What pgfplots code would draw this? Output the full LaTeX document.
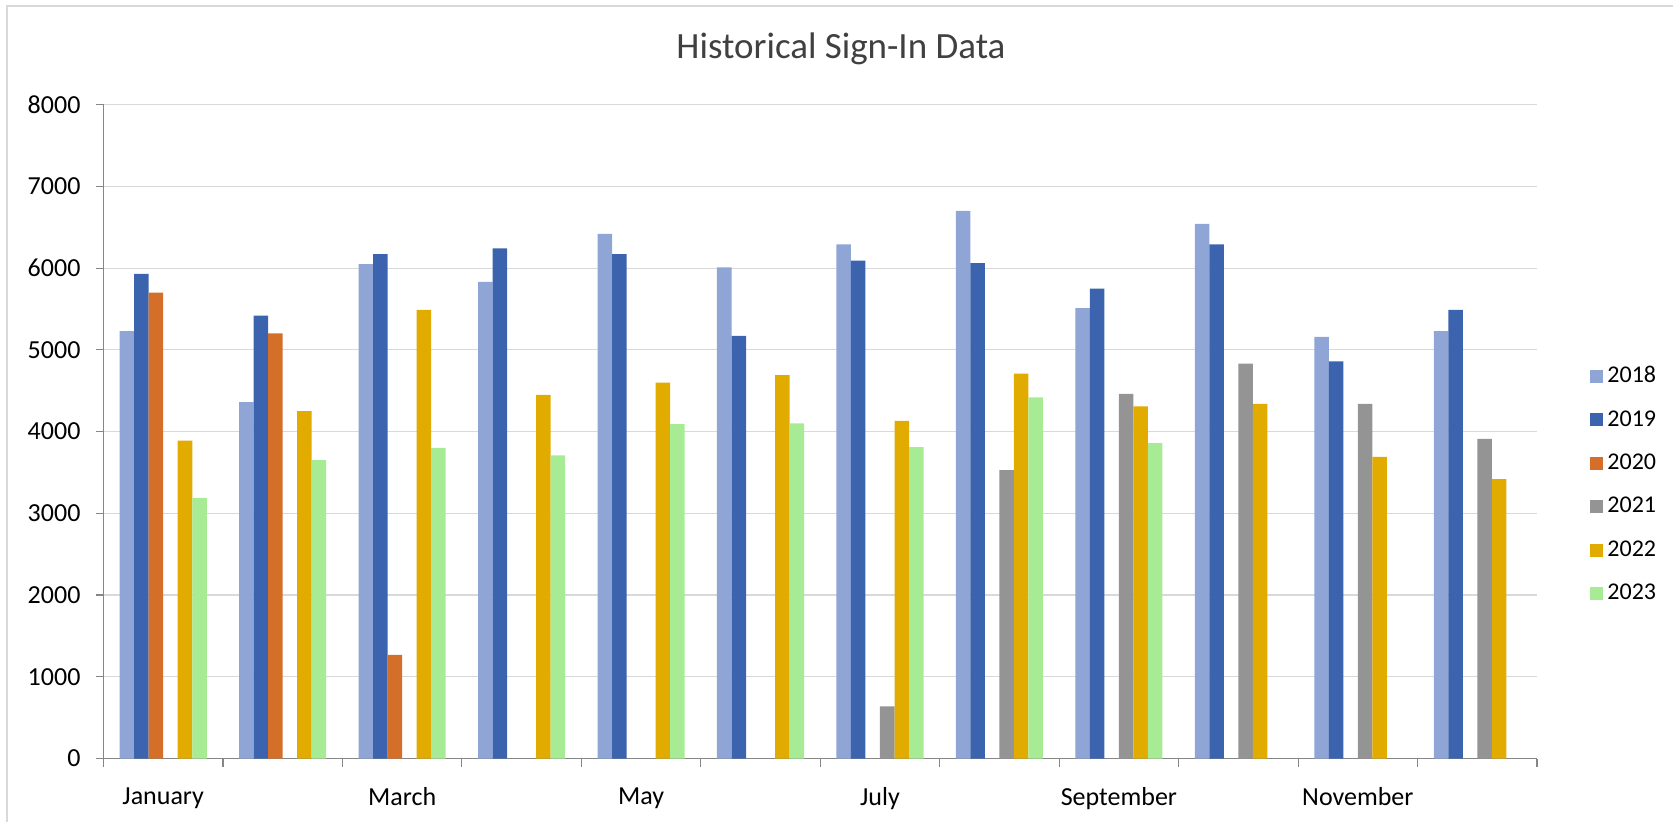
\documentclass[border=0pt]{standalone}
\usepackage{pgfplots}
\pgfplotsset{compat=1.18}
\usepackage{fontspec}
\setmainfont{Carlito}
\definecolor{c2018}{HTML}{8FA5D6}
\definecolor{c2019}{HTML}{3C64AE}
\definecolor{c2020}{HTML}{D46F2A}
\definecolor{c2021}{HTML}{949494}
\definecolor{c2022}{HTML}{E1AB00}
\definecolor{c2023}{HTML}{A7EC94}
\definecolor{gridc}{HTML}{D9D9D9}
\definecolor{axisc}{HTML}{868686}
\definecolor{titlec}{HTML}{404040}
\begin{document}
\begin{tikzpicture}
\path[use as bounding box] (0,0) rectangle (836.5pt,411pt);
\draw[gridc,line width=0.8pt] (3.5pt,0) -- (3.5pt,408pt) -- (836.5pt,408pt);
\node[font=\fontsize{18.5}{22}\selectfont, text=titlec] at (420.5pt,386.5pt) {Historical Sign-In Data};
\begin{axis}[
  at={(51.75pt,31.7pt)}, anchor=south west,
  scale only axis, width=716.75pt, height=327pt,
  xmin=-0.5, xmax=11.5, ymin=0, ymax=8000,
  axis x line*=bottom, axis y line*=left,
  axis line style={axisc, line width=0.6pt},
  ytick={0,1000,...,8000},
  ymajorgrids, grid style={gridc, line width=0.6pt},
  xtick={0,...,11},
  xticklabels={January,,March,,May,,July,,September,,November,},
  major x tick style={draw=none},
  minor xtick={-0.5,0.5,...,11.5},
  minor x tick style={axisc, line width=0.6pt},
  major y tick style={axisc, line width=0.6pt},
  tick align=outside, major tick length=4pt, minor tick length=4pt,
  /pgf/number format/assume math mode=true,
  /pgf/number format/1000 sep={},
  ticklabel style={font=\fontsize{13}{15}\selectfont, text=black},
  xticklabel style={yshift=-7pt},
  yticklabel style={xshift=-4pt},
  bar width=0.1215,
  legend style={at={(1.0328,0.419)}, anchor=west, draw=none, fill=none,
    font=\fontsize{12}{14}\selectfont, row sep=8.4pt},
  legend cell align=left,
  legend image code/.code={\fill[#1] (0pt,-3.25pt) rectangle (6.5pt,3.25pt);},
]
\addplot[ybar, bar shift=-0.30375, fill=c2018, draw=none] coordinates {
(0,5230) (1,4360) (2,6050) (3,5830) (4,6420) (5,6010) (6,6290) (7,6700) (8,5510) (9,6540) (10,5160) (11,5230)};
\addlegendentry{2018}
\addplot[ybar, bar shift=-0.18225, fill=c2019, draw=none] coordinates {
(0,5930) (1,5420) (2,6170) (3,6240) (4,6170) (5,5170) (6,6090) (7,6060) (8,5750) (9,6290) (10,4860) (11,5490)};
\addlegendentry{2019}
\addplot[ybar, bar shift=-0.06075, fill=c2020, draw=none] coordinates {
(0,5700) (1,5200) (2,1270)};
\addlegendentry{2020}
\addplot[ybar, bar shift=0.06075, fill=c2021, draw=none] coordinates {
(6,640) (7,3530) (8,4460) (9,4830) (10,4340) (11,3910)};
\addlegendentry{2021}
\addplot[ybar, bar shift=0.18225, fill=c2022, draw=none] coordinates {
(0,3890) (1,4250) (2,5490) (3,4450) (4,4600) (5,4690) (6,4130) (7,4710) (8,4310) (9,4340) (10,3690) (11,3420)};
\addlegendentry{2022}
\addplot[ybar, bar shift=0.30375, fill=c2023, draw=none] coordinates {
(0,3190) (1,3650) (2,3800) (3,3710) (4,4090) (5,4100) (6,3810) (7,4420) (8,3860)};
\addlegendentry{2023}
\end{axis}
\end{tikzpicture}
\end{document}
